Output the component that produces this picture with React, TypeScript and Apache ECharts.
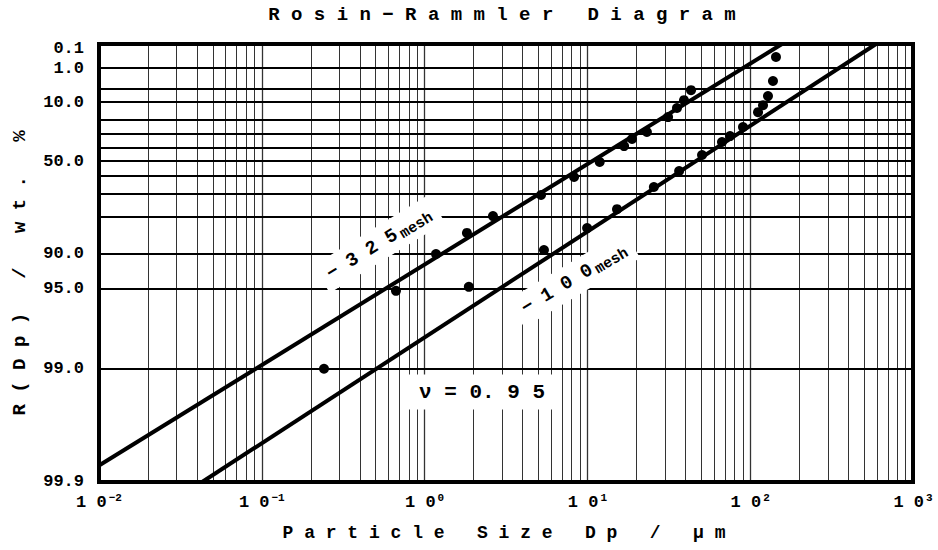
import React, { useEffect, useRef } from 'react';
import * as echarts from 'echarts';

// -325 mesh measured points: particle size Dp (µm) and residue R (wt.%)
const dp325 = [0.667, 1.175, 1.82, 2.63, 5.19, 8.28, 11.9, 16.8, 18.8, 23.2, 31.3, 35.5, 39.2, 43.3];
const r325 = [95.2, 90.1, 85.2, 79.8, 70.7, 60.6, 50.7, 39.1, 33.8, 28.6, 18.3, 13.0, 9.1, 5.3];

// -100 mesh measured points
const dp100 = [0.241, 1.87, 5.41, 9.96, 15.2, 25.6, 36.6, 50.6, 67.1, 75.2, 90.3, 111.7, 119.9, 128.6, 138, 144];
const r100 = [99.0, 94.8, 89.3, 83.8, 77.1, 66.5, 56.8, 45.7, 36.0, 31.6, 25.0, 15.3, 11.5, 7.4, 2.9, 0.31];

// fitted Rosin-Rammler lines (end points)
const fit325Dp = [0.01, 156.7];
const fit325R = [99.86, 0.054];
const fit100Dp = [0.043, 593];
const fit100R = [99.9, 0.054];

// axis definitions
const R_TOP = 0.054;
const R_BOTTOM = 99.9;
const gridR = [1, 5, 10, 20, 30, 40, 50, 60, 70, 80, 90, 95, 99];
const yTickR = [0.1, 1, 10, 50, 90, 95, 99, 99.9];
const yTickLabels = ['0.1', '1.0', '10.0', '50.0', '90.0', '95.0', '99.0', '99.9'];
const xDecadeExps = [-2, -1, 0, 1, 2];
const xMultipliers = [1, 2, 3, 4, 5, 6, 7, 8, 9];
const X_MIN = 0.01;
const X_MAX = 1000;

const MONO = '"Liberation Mono", "DejaVu Sans Mono", monospace';

const toY = (r: number) => Math.log10(Math.log(100 / r));

export default function App() {
  const ref = useRef<HTMLDivElement>(null);

  useEffect(() => {
    if (!ref.current) return;
    const chart = echarts.init(ref.current, null, { renderer: 'svg' });

    const yMin = toY(R_BOTTOM);
    const yMax = toY(R_TOP);
    const clampY = (v: number) => Math.min(yMax - 1e-6, Math.max(yMin + 1e-6, v));

    const vLines: any[] = [];
    xDecadeExps.forEach((e) => {
      xMultipliers.forEach((k) => {
        const v = Number((k * Math.pow(10, e)).toPrecision(3));
        if (v <= X_MIN || v >= X_MAX) return;
        vLines.push({
          xAxis: v,
          lineStyle: { color: '#000', width: k === 1 ? 1.3 : 1, type: 'solid', opacity: 0.8 },
          label: { show: false },
        });
      });
    });

    const hLines: any[] = gridR.map((r) => ({
      yAxis: toY(r),
      lineStyle: { color: '#000', width: 1.8, type: 'solid', opacity: 1 },
      label: { show: false },
    }));

    const labelMarks: any[] = yTickR.map((r, i) => ({
      yAxis: clampY(toY(r)),
      lineStyle: { color: 'rgba(0,0,0,0)', width: 0, type: 'solid', opacity: 1 },
      label: {
        show: true,
        position: 'start',
        distance: 15,
        formatter: yTickLabels[i],
        color: '#000',
        opacity: 1,
        fontFamily: MONO,
        fontWeight: 'bold',
        fontSize: 17,
      },
    }));

    const richMesh = {
      n: { fontFamily: MONO, fontWeight: 'bold', fontSize: 19, fill: '#000', lineHeight: 24, verticalAlign: 'middle' },
      m: { fontFamily: MONO, fontWeight: 'bold', fontSize: 15, fill: '#000', lineHeight: 24, verticalAlign: 'middle', padding: [9, 0, 0, 0] },
    };

    const option: any = {
      animation: false,
      backgroundColor: '#fff',
      grid: {
        left: 99,
        right: 25,
        top: 44,
        bottom: 68,
        show: true,
        borderColor: '#000',
        borderWidth: 4,
        backgroundColor: 'transparent',
      },
      xAxis: {
        type: 'log',
        logBase: 10,
        min: X_MIN,
        max: X_MAX,
        axisLine: { show: false },
        axisTick: { show: false },
        splitLine: { show: false },
        axisLabel: {
          margin: 10,
          formatter: (v: number) => {
            const e = Math.round(Math.log10(v));
            const s = e < 0 ? '−' + -e : String(e);
            return '{b|1 0}{s|' + s + '}';
          },
          rich: {
            b: { fontFamily: MONO, fontWeight: 'bold', fontSize: 17, color: '#000', lineHeight: 20 },
            s: { fontFamily: MONO, fontWeight: 'bold', fontSize: 11, color: '#000', verticalAlign: 'top', padding: [0, 0, 0, 2] },
          },
        },
      },
      yAxis: {
        type: 'value',
        min: yMin,
        max: yMax,
        show: false,
      },
      series: [
        {
          type: 'line',
          data: [],
          silent: true,
          z: 1,
          markLine: {
            silent: true,
            animation: false,
            symbol: ['none', 'none'],
            precision: 6,
            lineStyle: { type: 'solid', color: '#000', opacity: 1 },
            data: [...vLines, ...hLines, ...labelMarks],
          },
        },
        {
          name: '-325 fit',
          type: 'line',
          data: fit325Dp.map((d, i) => [d, toY(fit325R[i])]),
          symbol: 'none',
          lineStyle: { color: '#000', width: 4 },
          clip: true,
          z: 5,
        },
        {
          name: '-100 fit',
          type: 'line',
          data: fit100Dp.map((d, i) => [d, toY(fit100R[i])]),
          symbol: 'none',
          lineStyle: { color: '#000', width: 4 },
          clip: true,
          z: 5,
        },
        {
          name: '-325 mesh',
          type: 'scatter',
          data: dp325.map((d, i) => [d, toY(r325[i])]),
          symbolSize: 10,
          itemStyle: { color: '#000', opacity: 1 },
          z: 6,
        },
        {
          name: '-100 mesh',
          type: 'scatter',
          data: dp100.map((d, i) => [d, toY(r100[i])]),
          symbolSize: 10,
          itemStyle: { color: '#000', opacity: 1 },
          z: 6,
        },
      ],
      graphic: [
        {
          type: 'text',
          x: 502,
          y: 15,
          z: 20,
          style: {
            text: 'R o s i n − R a m m l e r   D i a g r a m',
            fontFamily: MONO,
            fontWeight: 'bold',
            fontSize: 19,
            fill: '#000',
            align: 'center',
            verticalAlign: 'middle',
          },
        },
        {
          type: 'text',
          x: 504,
          y: 533,
          z: 20,
          style: {
            text: 'P a r t i c l e   S i z e   D p   /   μ m',
            fontFamily: MONO,
            fontWeight: 'bold',
            fontSize: 18,
            fill: '#000',
            align: 'center',
            verticalAlign: 'middle',
          },
        },
        {
          type: 'text',
          x: 20,
          y: 273,
          rotation: Math.PI / 2,
          z: 20,
          style: {
            text: 'R ( D p )   /   w t .   %',
            fontFamily: MONO,
            fontWeight: 'bold',
            fontSize: 19,
            fill: '#000',
            align: 'center',
            verticalAlign: 'middle',
          },
        },
        {
          type: 'text',
          x: 379,
          y: 244,
          rotation: (31.6 * Math.PI) / 180,
          z: 20,
          style: {
            text: '{n|− 3 2 5} {m|mesh}',
            align: 'center',
            verticalAlign: 'middle',
            backgroundColor: '#fff',
            padding: [4, 8],
            rich: richMesh,
          },
        },
        {
          type: 'text',
          x: 574,
          y: 279,
          rotation: (31 * Math.PI) / 180,
          z: 20,
          style: {
            text: '{n|− 1 0 0} {m|mesh}',
            align: 'center',
            verticalAlign: 'middle',
            backgroundColor: '#fff',
            padding: [4, 8],
            rich: richMesh,
          },
        },
        {
          type: 'text',
          x: 482,
          y: 392,
          z: 20,
          style: {
            text: 'ν = 0. 9 5',
            fontFamily: MONO,
            fontWeight: 'bold',
            fontSize: 21,
            fill: '#000',
            align: 'center',
            verticalAlign: 'middle',
            backgroundColor: '#fff',
            padding: [7, 16],
          },
        },
      ],
    };

    chart.setOption(option);
    return () => chart.dispose();
  }, []);

  return (
    <div
      ref={ref}
      style={{ position: 'fixed', left: 0, top: 0, width: '938px', height: '550px', background: '#fff' }}
    />
  );
}
